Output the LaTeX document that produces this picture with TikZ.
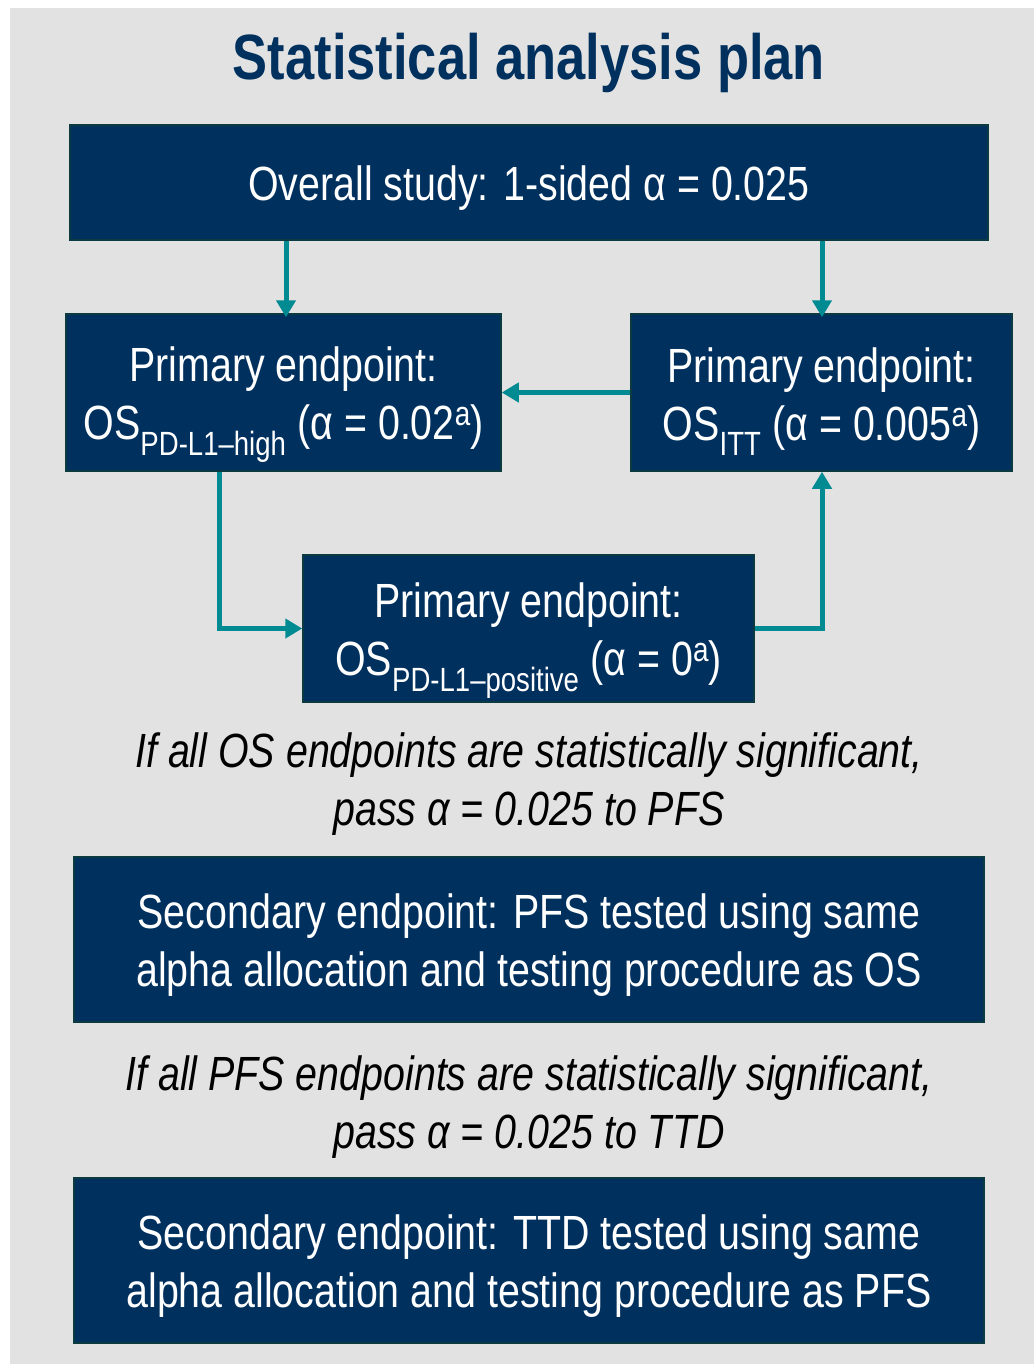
\documentclass[tikz,border=0pt]{standalone}
\usepackage{fontspec}
\setmainfont[FakeStretch=0.82]{Liberation Sans}
\usetikzlibrary{arrows.meta}
\definecolor{navy}{HTML}{00305E}
\definecolor{boxedge}{HTML}{0B3A40}
\definecolor{teal}{HTML}{008A92}
\definecolor{panel}{HTML}{E2E2E2}
\newcommand{\lo}[1]{\textsubscript{#1}}
\newcommand{\hi}[1]{\raisebox{14pt}{\fontsize{34}{34}\selectfont #1}}
\tikzset{
  stagebox/.style={draw=boxedge, line width=1.5pt, fill=navy, inner sep=0pt},
  stagetext/.style={text=white, align=center, inner sep=0pt,
    font=\fontsize{48}{58}\selectfont},
  flow/.style={draw=teal, line width=5pt,
    -{Triangle[length=17pt,width=19pt]}},
  note/.style={align=center, inner sep=0pt, font=\fontsize{48}{58}\selectfont\itshape},
}
\begin{document}
\begin{tikzpicture}[x=1pt,y=-1pt]
  \useasboundingbox (0,0) rectangle (1034,1364);
  \fill[panel] (10,8) rectangle (1034,1364);

  \node[text=navy, font=\fontsize{64}{70}\selectfont\bfseries] (title) at (529,63) {Statistical analysis plan};

  % boxes
  \node[stagebox, minimum width=918pt, minimum height=115pt] (overall) at (529,182.5) {};
  \node[stagebox, minimum width=435pt, minimum height=157pt] (high) at (283.5,392.5) {};
  \node[stagebox, minimum width=381pt, minimum height=157pt] (itt) at (821.5,392.5) {};
  \node[stagebox, minimum width=451pt, minimum height=147pt] (pos) at (528.5,628.5) {};
  \node[stagebox, minimum width=910pt, minimum height=165pt] (pfs) at (529,939.5) {};
  \node[stagebox, minimum width=910pt, minimum height=165pt] (ttd) at (529,1260.5) {};

  % box texts
  \node[stagetext] (overalltxt) at ([yshift=-6pt]overall.center)
    {Overall study: 1-sided α = 0.025};
  \node[stagetext] (hightxt) at ([yshift=-12pt]high.center)
    {Primary endpoint:\\OS\lo{PD-L1–high} (α = 0.02\hi{a})};
  \node[stagetext] (itttxt) at ([yshift=-9pt]itt.center)
    {Primary endpoint:\\OS\lo{ITT} (α = 0.005\hi{a})};
  \node[stagetext] (postxt) at ([yshift=-12pt]pos.center)
    {Primary endpoint:\\OS\lo{PD-L1–positive} (α = 0\hi{a})};
  \node[stagetext] (pfstxt) at ([yshift=-6pt]pfs.center)
    {Secondary endpoint: PFS tested using same\\alpha allocation and testing procedure as OS};
  \node[stagetext] (ttdtxt) at ([yshift=-6pt]ttd.center)
    {Secondary endpoint: TTD tested using same\\alpha allocation and testing procedure as PFS};

  % conditions between the stages
  \node[note] (pass1) at (529,784)
    {If all OS endpoints are statistically significant,\\pass α = 0.025 to PFS};
  \node[note] (pass2) at (529,1107)
    {If all PFS endpoints are statistically significant,\\pass α = 0.025 to TTD};

  % alpha flow between the hypotheses
  \draw[flow] (overall.south -| 286,0) -- ([yshift=-4pt]high.north -| 286,0);
  \draw[flow] (overall.south -| 822,0) -- ([yshift=-4pt]itt.north -| 822,0);
  \draw[flow] (itt.west) -- (high.east);
  \draw[flow] (high.south -| 219,0) |- (pos.west);
  \draw[flow] (pos.east) -| (itt.south -| 822,0);
\end{tikzpicture}
\end{document}
